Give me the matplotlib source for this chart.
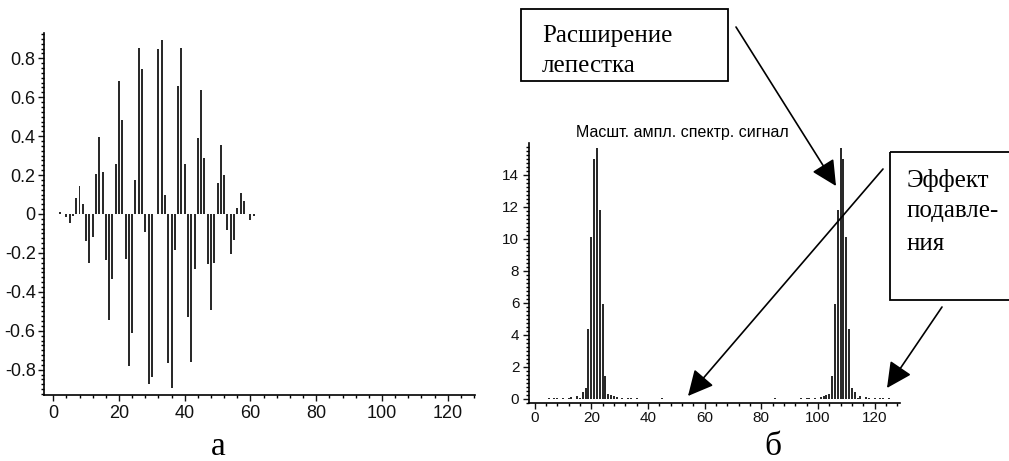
import matplotlib
matplotlib.use('Agg')
import matplotlib.pyplot as plt
from matplotlib.ticker import MultipleLocator, FuncFormatter
from matplotlib.patches import Rectangle

plt.rcParams['font.family'] = ['Liberation Sans', 'DejaVu Sans']
plt.rcParams['axes.unicode_minus'] = False

# windowed test signal, samples 1..61
sig_n = list(range(1, 62))
sig_vals = [0.0, 0.01, 0.0, -0.017, -0.048, -0.01, 0.084, 0.144, 0.053, -0.139,
            -0.252, -0.118, 0.204, 0.397, 0.218, -0.235, -0.543, -0.334, 0.255, 0.683,
            0.481, -0.23, -0.783, -0.612, 0.173, 0.855, 0.743, -0.093, -0.872, -0.838,
            0.0, 0.846, 0.892, 0.099, -0.766, -0.894, -0.183, 0.66, 0.855, 0.255,
            -0.529, -0.761, -0.281, 0.39, 0.639, 0.286, -0.259, -0.492, -0.252, 0.159,
            0.355, 0.199, -0.081, -0.207, -0.132, 0.031, 0.108, 0.069, 0.0, -0.033,
            -0.01]

# scaled amplitude spectrum (128-point), only non-zero bins listed
spec_n = [5, 7, 8, 10, 12, 13, 15, 16, 17, 18, 19, 20, 21, 22, 23, 24, 25, 26, 27, 28,
          29, 31, 33, 34, 36, 45,
          85, 94, 96, 97, 99, 101, 102, 103, 104, 105, 106, 107, 108, 109, 110, 111,
          112, 113, 114, 115, 117, 118, 120, 122, 123, 125]
spec_vals = [0.05, 0.05, 0.05, 0.06, 0.06, 0.08, 0.15, 0.06, 0.42, 0.63, 4.34, 10.1,
             14.96, 15.65, 11.79, 5.9, 1.4, 0.31, 0.21, 0.15, 0.1, 0.06, 0.05, 0.05,
             0.05, 0.05,
             0.05, 0.05, 0.05, 0.05, 0.06, 0.1, 0.15, 0.21, 0.31, 1.4, 5.9, 11.79,
             15.65, 14.96, 10.1, 4.34, 0.63, 0.42, 0.06, 0.15, 0.08, 0.06, 0.06, 0.05,
             0.05, 0.05]

W, H = 1009, 461
fig = plt.figure(figsize=(W / 100, H / 100), dpi=100)


def px_axes(x0, y0, x1, y1):
    return fig.add_axes([x0 / W, 1 - y1 / H, (x1 - x0) / W, (y1 - y0) / H])


def maple_style(ax, size, pad_x, pad_y):
    for s in ('top', 'right'):
        ax.spines[s].set_visible(False)
    for s in ('left', 'bottom'):
        ax.spines[s].set_linewidth(1.2)
    ax.tick_params(which='major', direction='out', length=4, width=1,
                   labelsize=size, colors='#111111')
    ax.tick_params(which='minor', direction='out', length=2, width=1)
    ax.tick_params(axis='x', pad=pad_x)
    ax.tick_params(axis='y', pad=pad_y)
    ax.xaxis.set_major_locator(MultipleLocator(20))
    ax.xaxis.set_minor_locator(MultipleLocator(4))


# (а) signal
ax1 = px_axes(44, 33, 475, 395)
ax1.bar(sig_n, sig_vals, width=0.6, color='#2a2a2a', linewidth=0)
ax1.set_xlim(-2.8, 128.3)
ax1.set_ylim(-0.93, 0.93)
maple_style(ax1, 13, 3, 2)
ax1.yaxis.set_major_locator(MultipleLocator(0.2))
ax1.yaxis.set_minor_locator(MultipleLocator(0.025))
ax1.yaxis.set_major_formatter(FuncFormatter(lambda v, p: '0' if abs(v) < 1e-9 else f'{v:.1f}'))

# (б) spectrum
ax2 = px_axes(529, 143, 900, 403)
ax2.bar(spec_n, spec_vals, width=0.7, color='#2a2a2a', linewidth=0)
ax2.set_xlim(-2, 129)
ax2.set_ylim(-0.28, 15.97)
maple_style(ax2, 11, 1.5, 3)
ax2.yaxis.set_major_locator(MultipleLocator(2))
ax2.yaxis.set_minor_locator(MultipleLocator(0.25))
ax2.yaxis.set_major_formatter(FuncFormatter(lambda v, p: f'{v:.0f}'))

# overlay in pixel coordinates for titles, callouts and captions
ov = fig.add_axes([0, 0, 1, 1])
ov.set_xlim(0, W)
ov.set_ylim(H, 0)
ov.axis('off')
ov.patch.set_alpha(0)

ov.text(576, 137, 'Масшт. ампл. спектр. сигнал', fontsize=11.5, va='baseline', ha='left')

serif = ['Liberation Serif', 'DejaVu Serif']
ov.add_patch(Rectangle((521, 9), 207, 72, fill=False, lw=1.3, ec='black'))
ov.text(542, 42, 'Расширение', family=serif, fontsize=18, va='baseline')
ov.text(542, 72, 'лепестка', family=serif, fontsize=18, va='baseline')

ov.add_patch(Rectangle((890, 152), 140, 148, fill=False, lw=1.3, ec='black', clip_on=False))
ov.text(907, 187, 'Эффект', family=serif, fontsize=18, va='baseline')
ov.text(907, 217, 'подавле-', family=serif, fontsize=18, va='baseline')
ov.text(907, 250, 'ния', family=serif, fontsize=18, va='baseline')

head = dict(arrowstyle='-|>,head_length=1.2,head_width=0.6', mutation_scale=13,
            lw=1.2, color='black', shrinkA=0, shrinkB=0)
ov.annotate('', xy=(836, 186), xytext=(736, 27), arrowprops=head)
ov.annotate('', xy=(688, 396), xytext=(883, 169), arrowprops=head)
ov.annotate('', xy=(887, 388), xytext=(942, 307), arrowprops=head)

ov.text(218, 455, 'а', family=serif, fontsize=24, ha='center', va='baseline')
ov.text(773, 455, 'б', family=serif, fontsize=24, ha='center', va='baseline')

fig.savefig('out.png', dpi=100)
